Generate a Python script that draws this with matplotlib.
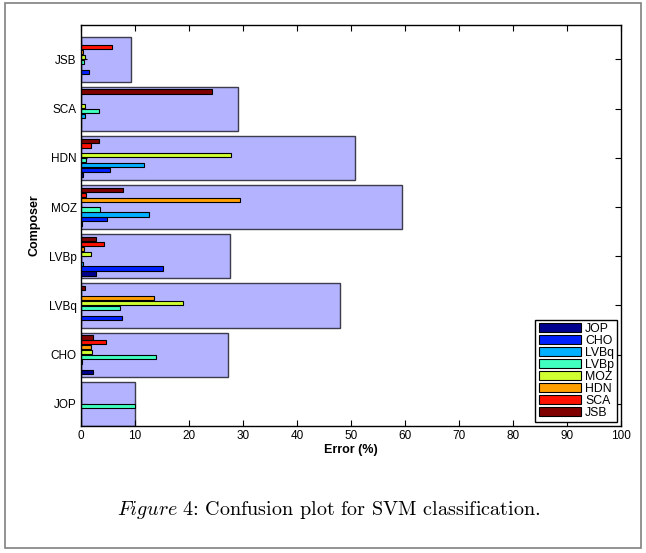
import numpy as np
import matplotlib.pyplot as plt
from matplotlib.patches import Rectangle

plt.rcParams['font.family'] = ['Liberation Sans', 'DejaVu Sans']
plt.rcParams['mathtext.fontset'] = 'cm'

# composers (y axis, bottom to top)
composers = ['JOP', 'CHO', 'LVBq', 'LVBp', 'MOZ', 'HDN', 'SCA', 'JSB']

# total error per composer (%)
total = [10.0, 27.2, 48.0, 27.6, 59.4, 50.7, 29.1, 9.2]

# error split by predicted class (%), one list per predicted class
JOP = [0, 2.3, 0, 2.7, 0.25, 0.4, 0, 0]
CHO = [0, 0, 7.65, 15.1, 4.9, 5.3, 0, 1.4]
LVBq = [0, 0.25, 0, 0.3, 12.5, 11.7, 0.8, 0]
LVBp = [10.0, 13.8, 7.2, 0, 3.5, 1.0, 3.3, 0.6]
MOZ = [0, 2.1, 18.8, 1.8, 0, 27.7, 0.8, 0.8]
HDN = [0, 1.85, 13.6, 0.6, 29.5, 0, 0, 0.4]
SCA = [0, 4.7, 0, 4.2, 1.0, 1.8, 0, 5.8]
JSB = [0, 2.3, 0.8, 2.7, 7.8, 3.3, 24.2, 0]
series = [JOP, CHO, LVBq, LVBp, MOZ, HDN, SCA, JSB]

# matlab style jet colours
colors = [(0, 0, 0.5625), (0, 0.125, 1), (0, 0.6875, 1), (0.25, 1, 0.75),
          (0.8125, 1, 0.1875), (1, 0.625, 0), (1, 0.0625, 0), (0.5, 0, 0)]

fig = plt.figure(figsize=(6.46, 5.53), dpi=100)
ax = fig.add_axes([81 / 646, 127 / 553, 540 / 646, 401 / 553])

y = np.arange(1, len(composers) + 1)

# background bar: total error
ax.barh(y, total, height=0.9, color='#b3b3ff', edgecolor='#3c3c4c', linewidth=1.0, zorder=1)

# grouped bars
step = 0.1
for i, vals in enumerate(series):
    ax.barh(y + (i - 3.5) * step, vals, height=0.085, color=colors[i],
            edgecolor='black', linewidth=0.8, label=composers[i], zorder=2)

ax.set_xlim(0, 100)
ax.set_ylim(0.55, 8.7)
ax.set_xticks(np.arange(0, 101, 10))
ax.set_yticks(y)
ax.set_yticklabels(composers)
ax.tick_params(direction='in', length=4, width=0.8, top=True, right=True,
               labelsize=8.5, pad=3)
for s in ax.spines.values():
    s.set_linewidth(1.0)

ax.set_xlabel('Error (%)', fontweight='bold', fontsize=9, labelpad=1)
ax.set_ylabel('Composer', fontweight='bold', fontsize=9, labelpad=6)

leg = ax.legend(loc='lower right', bbox_to_anchor=(617 / 646, 131 / 553),
                bbox_transform=fig.transFigure, borderaxespad=0, fontsize=8.8,
                fancybox=False, framealpha=1, edgecolor='black',
                handlelength=3.5, handleheight=0.7, labelspacing=0.0,
                handletextpad=0.3, borderpad=0.25)
leg.get_frame().set_linewidth(1.0)

# caption and outer frame
fig.text(0.509, 0.078, r'$\mathit{Figure\ 4}$: Confusion plot for SVM classification.',
         family='cmr10', fontsize=14.5, ha='center', va='center')
fig.patches.append(Rectangle((5 / 646, 5 / 553), 636 / 646, 545 / 553,
                             transform=fig.transFigure, fill=False,
                             edgecolor='#808080', linewidth=1.2))

fig.savefig('out.png', dpi=100)
